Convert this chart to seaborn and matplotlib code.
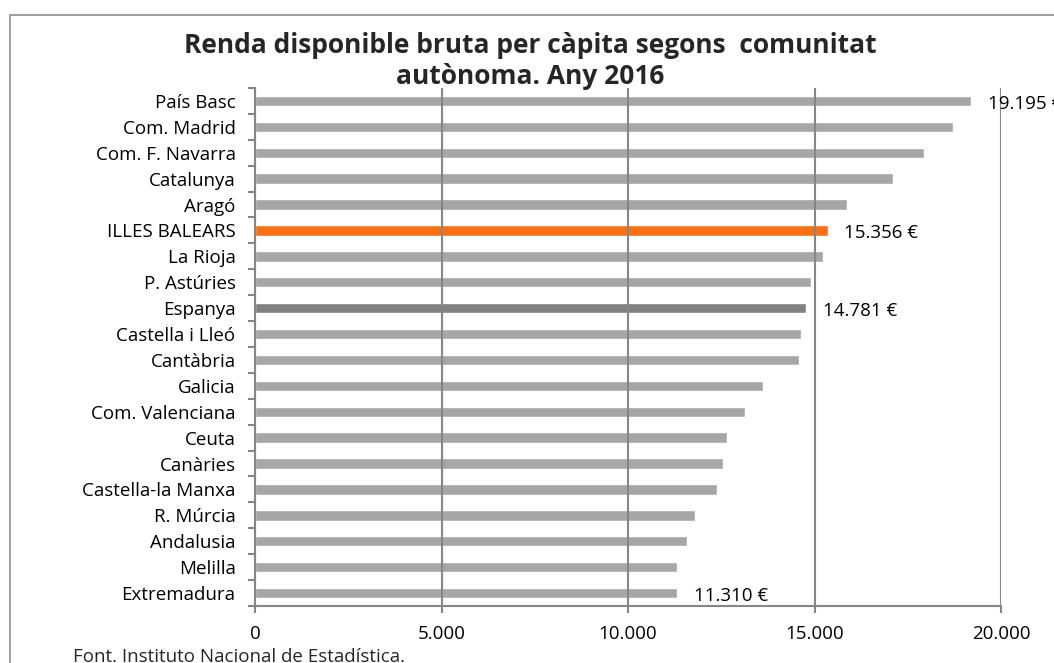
import numpy as np
import pandas as pd
import seaborn as sns
from matplotlib import pyplot as plt
from matplotlib.patches import Rectangle
from matplotlib.ticker import FuncFormatter, FixedLocator

# data (euros per capita, 2016)
communities = [
    "País Basc", "Com. Madrid", "Com. F. Navarra", "Catalunya", "Aragó",
    "ILLES BALEARS", "La Rioja", "P. Astúries", "Espanya", "Castella i Lleó",
    "Cantàbria", "Galicia", "Com. Valenciana", "Ceuta", "Canàries",
    "Castella-la Manxa", "R. Múrcia", "Andalusia", "Melilla", "Extremadura",
]
income = [
    19195, 18700, 17940, 17100, 15880,
    15356, 15240, 14900, 14781, 14640,
    14580, 13610, 13145, 12660, 12540,
    12390, 11800, 11575, 11320, 11310,
]
labelled = ["País Basc", "ILLES BALEARS", "Espanya", "Extremadura"]
x_ticks = [0, 5000, 10000, 15000, 20000]

df = pd.DataFrame({"community": communities, "income": income})

sns.set_theme(style="white")
plt.rcParams["font.family"] = ["Open Sans", "DejaVu Sans"]

grey = "#a6a6a6"
palette = {c: grey for c in communities}
palette["ILLES BALEARS"] = "#fa7015"
palette["Espanya"] = "#808080"

fig = plt.figure(figsize=(10.54, 6.63), dpi=100)
W, H = 1054, 663
ax = fig.add_axes([255 / W, 1 - 606 / H, (1001 - 255) / W, (606 - 88) / H])

sns.barplot(data=df, x="income", y="community", hue="community",
            palette=palette, legend=False, width=0.4, saturation=1,
            orient="h", ax=ax)

line_col = "#868686"
fs = 13.5
ax.set_xlim(0, 20000)
ax.set_ylim(len(communities) - 0.5, -0.5)
ax.xaxis.set_major_locator(FixedLocator(x_ticks))
ax.xaxis.set_major_formatter(FuncFormatter(lambda v, p: f"{int(v):,}".replace(",", ".")))
# gridlines sit on top of the bars, as in the original
ax.set_axisbelow(False)
ax.grid(axis="x", color=line_col, linewidth=1.5, linestyle="-")
for s in ["top", "right"]:
    ax.spines[s].set_visible(False)
for s in ["left", "bottom"]:
    ax.spines[s].set_color(line_col)
    ax.spines[s].set_linewidth(1.5)

ax.tick_params(axis="x", bottom=True, length=5, width=1.5, color=line_col,
               pad=9, labelsize=fs, labelcolor="black")
ax.tick_params(axis="y", which="major", left=False, length=0, pad=14,
               labelsize=fs, labelcolor="black")
ax.set_yticks(np.arange(len(communities) + 1) - 0.5, minor=True)
ax.tick_params(axis="y", which="minor", left=True, length=5, width=1.5, color=line_col)
ax.set_xlabel("")
ax.set_ylabel("")

for i, (c, v) in enumerate(zip(communities, income)):
    if c in labelled:
        ax.annotate(f"{v:,}".replace(",", ".") + " €", (v, i), xytext=(12, -2),
                    textcoords="offset points", va="center", ha="left",
                    fontsize=fs, color="black", annotation_clip=False)

fig.text(530 / W, 1 - 61 / H,
         "Renda disponible bruta per càpita segons  comunitat\nautònoma. Any 2016",
         ha="center", va="center", fontsize=19, fontweight="bold",
         linespacing=1.15)
fig.text(73 / W, 1 - 657 / H, "Font. Instituto Nacional de Estadística.",
         ha="left", va="center", fontsize=fs)

fig.patches.append(Rectangle((10 / W, -0.1), 1.2, 1 - 15 / H + 0.1,
                             transform=fig.transFigure, fill=False,
                             edgecolor="#8c8c8c", linewidth=1.2))

fig.savefig("out.png", dpi=100)
